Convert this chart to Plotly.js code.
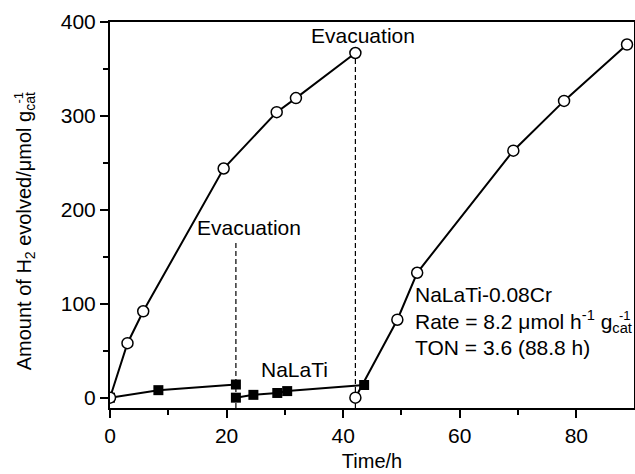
<!DOCTYPE html>
<html><head><meta charset="utf-8">
<script src="https://cdn.plot.ly/plotly-3.0.1.min.js"></script>
<style>html,body{margin:0;padding:0;background:#fff}</style>
</head><body><div id="chart" style="width:635px;height:474px"></div>
<script>
// NaLaTi-0.08Cr (open circles), run 1 and run 2 after evacuation
var crRun1X = [0, 3.0, 5.7, 19.5, 28.6, 31.9, 42.1];
var crRun1Y = [0, 58, 92, 244, 304, 319, 367];
var crRun2X = [42.1, 49.3, 52.7, 69.2, 77.9, 88.7];
var crRun2Y = [0, 83, 133, 263, 316, 376];
// NaLaTi (filled squares)
var tiRun1X = [0, 8.3, 21.6];
var tiRun1Y = [0, 8, 14];
var tiRun2X = [21.6, 24.6, 28.7, 30.4, 43.6];
var tiRun2Y = [0, 3, 5, 7, 13.5];
// evacuation markers (dashed)
var evacX = [21.6, 42.1];
var evacTop = [167, 372];
var yBottom = -11;
var xTicks = [0, 20, 40, 60, 80];
var xMinor = [10, 30, 50, 70];
var yTicks = [0, 100, 200, 300, 400];
var yMinor = [50, 150, 250, 350];

var font = "Liberation Sans, Arial, sans-serif";
var fs = 21;
var traces = [];
traces.push({x:[evacX[0],evacX[0]], y:[yBottom,evacTop[0]], mode:'lines', line:{color:'#000',width:1.2,dash:'5px,3px'}, showlegend:false});
traces.push({x:[evacX[1],evacX[1]], y:[yBottom,evacTop[1]], mode:'lines', line:{color:'#000',width:1.2,dash:'5px,3px'}, showlegend:false});
function sq(x,y){return {x:x,y:y,mode:'lines+markers',line:{color:'#000',width:2},marker:{symbol:'square',size:10,color:'#000'},showlegend:false};}
function ci(x,y){return {x:x,y:y,mode:'lines+markers',line:{color:'#000',width:2},marker:{symbol:'circle',size:11,color:'#fff',line:{color:'#000',width:1.5}},showlegend:false};}
traces.push(sq(tiRun1X,tiRun1Y));
traces.push(sq(tiRun2X,tiRun2Y));
traces.push(ci(crRun1X,crRun1Y));
traces.push(ci(crRun2X,crRun2Y));

var axisCommon = {showline:true, linecolor:'#000', linewidth:2, mirror:true, ticks:'outside', ticklen:8, tickwidth:2, tickcolor:'#000', showgrid:false, zeroline:false, tickfont:{family:font,size:fs,color:'#000'}};
var tf = {family:font,size:fs,color:'#000'};
var sf = {family:font,size:13,color:'#000'};
var layout = {
  width:635, height:474,
  margin:{l:110, r:1, t:22, b:66},
  paper_bgcolor:'#fff', plot_bgcolor:'#fff',
  font:{family:font, color:'#000'},
  xaxis: Object.assign({}, axisCommon, {range:[0,89.9], tickvals:xTicks, minor:{tickvals:xMinor, ticks:'outside', ticklen:5, tickwidth:2, tickcolor:'#000'}, title:{text:'Time/h', font:{family:font,size:20,color:'#000'}, standoff:8}}),
  yaxis: Object.assign({}, axisCommon, {range:[yBottom,400], tickvals:yTicks, minor:{tickvals:yMinor, ticks:'outside', ticklen:5, tickwidth:2, tickcolor:'#000'}}),
  annotations:[
    {xref:'paper', yref:'paper', x:-0.162, y:0.458, xanchor:'center', yanchor:'middle', textangle:-90, showarrow:false, text:'Amount of H<sub>2</sub> evolved/μmol g<sub>cat</sub>', font:{family:font,size:20,color:'#000'}},
    {xref:'paper', yref:'paper', x:-0.175, y:0.805, xanchor:'center', yanchor:'middle', textangle:-90, showarrow:false, text:'-1', font:sf},
    {x:evacX[0], y:181, xref:'x', yref:'y', text:'Evacuation', showarrow:false, xanchor:'left', xshift:-41, font:tf},
    {x:evacX[1], y:386, xref:'x', yref:'y', text:'Evacuation', showarrow:false, xanchor:'left', xshift:-46, font:tf},
    {x:25.5, y:30, xref:'x', yref:'y', text:'NaLaTi', showarrow:false, xanchor:'left', font:tf},
    {x:51.9, y:110, xref:'x', yref:'y', text:'NaLaTi-0.08Cr', showarrow:false, xanchor:'left', font:tf},
    {x:51.9, y:81.5, xref:'x', yref:'y', text:'Rate = 8.2 μmol h<sup>-1</sup> g<sub>cat</sub>', showarrow:false, xanchor:'left', font:tf},
    {x:86.9, y:87, xref:'x', yref:'y', text:'-1', showarrow:false, xanchor:'left', font:sf},
    {x:51.9, y:53, xref:'x', yref:'y', text:'TON = 3.6 (88.8 h)', showarrow:false, xanchor:'left', font:tf}
  ]
};
Plotly.newPlot('chart', traces, layout, {staticPlot:true, displayModeBar:false});
</script></body></html>
